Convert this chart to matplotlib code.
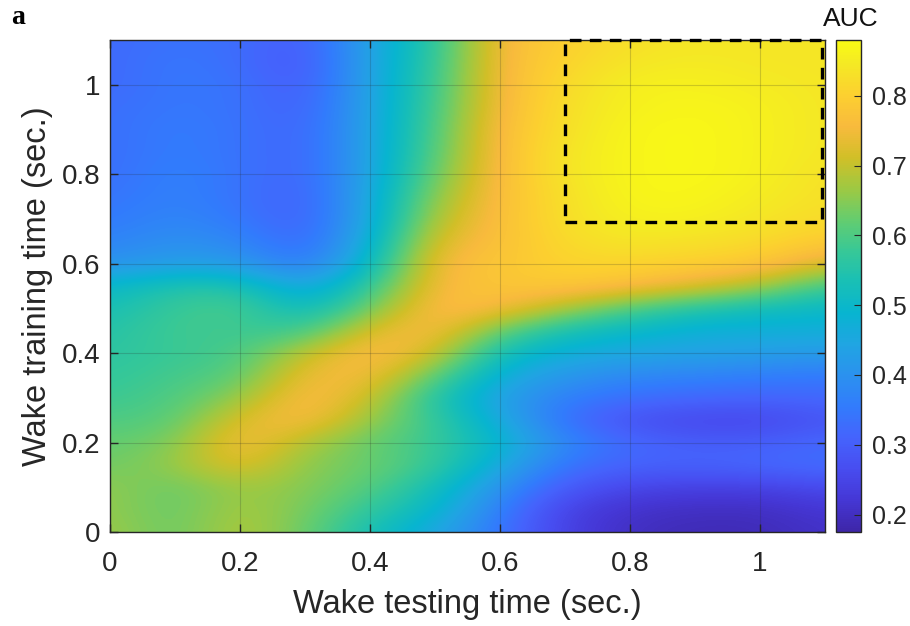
import numpy as np
import matplotlib
matplotlib.use('Agg')
import matplotlib.pyplot as plt
from matplotlib.colors import LinearSegmentedColormap
from matplotlib.patches import Rectangle

plt.rcParams['font.family'] = ['Liberation Sans', 'DejaVu Sans']

# testing time (columns) and training time (rows), seconds
test_t = [0.0, 0.1, 0.2, 0.3, 0.4, 0.5, 0.6, 0.7, 0.8, 0.9, 1.0, 1.1]
train_t = [0.00, 0.05, 0.10, 0.15, 0.20, 0.25, 0.30, 0.35, 0.40, 0.45, 0.50, 0.55,
           0.60, 0.65, 0.70, 0.75, 0.80, 0.85, 0.90, 0.95, 1.00, 1.05, 1.10]

# AUC, one row per training time
auc = [
    [0.67, 0.62, 0.69, 0.63, 0.53, 0.45, 0.34, 0.24, 0.20, 0.19, 0.19, 0.21],
    [0.66, 0.62, 0.68, 0.64, 0.57, 0.50, 0.36, 0.24, 0.21, 0.20, 0.20, 0.22],
    [0.66, 0.62, 0.67, 0.65, 0.61, 0.53, 0.40, 0.29, 0.25, 0.24, 0.24, 0.26],
    [0.63, 0.66, 0.74, 0.65, 0.63, 0.58, 0.46, 0.34, 0.31, 0.31, 0.32, 0.33],
    [0.62, 0.64, 0.77, 0.68, 0.62, 0.58, 0.50, 0.38, 0.32, 0.30, 0.30, 0.32],
    [0.60, 0.61, 0.73, 0.77, 0.66, 0.58, 0.46, 0.33, 0.27, 0.25, 0.25, 0.28],
    [0.58, 0.60, 0.66, 0.78, 0.71, 0.55, 0.43, 0.36, 0.33, 0.32, 0.31, 0.32],
    [0.57, 0.59, 0.61, 0.75, 0.76, 0.62, 0.47, 0.41, 0.38, 0.37, 0.36, 0.35],
    [0.56, 0.58, 0.59, 0.70, 0.78, 0.72, 0.52, 0.47, 0.45, 0.44, 0.43, 0.42],
    [0.55, 0.59, 0.58, 0.58, 0.73, 0.77, 0.62, 0.53, 0.50, 0.47, 0.47, 0.47],
    [0.53, 0.58, 0.60, 0.50, 0.63, 0.78, 0.76, 0.68, 0.60, 0.55, 0.52, 0.50],
    [0.50, 0.55, 0.55, 0.43, 0.57, 0.76, 0.78, 0.79, 0.77, 0.73, 0.68, 0.58],
    [0.40, 0.43, 0.42, 0.34, 0.50, 0.76, 0.78, 0.81, 0.81, 0.80, 0.79, 0.72],
    [0.37, 0.40, 0.38, 0.31, 0.47, 0.73, 0.77, 0.82, 0.84, 0.83, 0.82, 0.79],
    [0.35, 0.38, 0.35, 0.30, 0.45, 0.69, 0.77, 0.83, 0.86, 0.86, 0.84, 0.82],
    [0.34, 0.37, 0.34, 0.30, 0.45, 0.66, 0.77, 0.83, 0.87, 0.87, 0.85, 0.83],
    [0.33, 0.37, 0.34, 0.31, 0.44, 0.63, 0.77, 0.84, 0.87, 0.875, 0.86, 0.83],
    [0.33, 0.36, 0.34, 0.31, 0.44, 0.61, 0.77, 0.84, 0.87, 0.875, 0.86, 0.84],
    [0.33, 0.36, 0.34, 0.31, 0.44, 0.60, 0.77, 0.83, 0.87, 0.875, 0.86, 0.84],
    [0.33, 0.35, 0.34, 0.30, 0.44, 0.59, 0.76, 0.83, 0.86, 0.87, 0.86, 0.84],
    [0.32, 0.35, 0.34, 0.29, 0.44, 0.58, 0.76, 0.82, 0.86, 0.86, 0.85, 0.84],
    [0.32, 0.35, 0.33, 0.28, 0.44, 0.57, 0.76, 0.81, 0.84, 0.85, 0.84, 0.84],
    [0.32, 0.34, 0.33, 0.29, 0.44, 0.56, 0.76, 0.80, 0.83, 0.84, 0.84, 0.84],
]

# highlighted window (test start, train start)
box_x = [0.70, 1.095]
box_y = [0.693, 1.10]

ticks = [0, 0.2, 0.4, 0.6, 0.8, 1.0]
tick_labels = ['0', '0.2', '0.4', '0.6', '0.8', '1']
cbar_ticks = [0.2, 0.3, 0.4, 0.5, 0.6, 0.7, 0.8]

# parula-like colormap
parula = LinearSegmentedColormap.from_list('parula', [
    (0 / 63, (0.2422, 0.1504, 0.6603)),
    (4 / 63, (0.2706, 0.2147, 0.8364)),
    (8 / 63, (0.2813, 0.3006, 0.9414)),
    (12 / 63, (0.2699, 0.3892, 0.9906)),
    (16 / 63, (0.1963, 0.4847, 0.9892)),
    (20 / 63, (0.1687, 0.5703, 0.9359)),
    (24 / 63, (0.1248, 0.6459, 0.8883)),
    (28 / 63, (0.0297, 0.7082, 0.8163)),
    (32 / 63, (0.0964, 0.7500, 0.7120)),
    (36 / 63, (0.2161, 0.7843, 0.5923)),
    (40 / 63, (0.3909, 0.8029, 0.4354)),
    (44 / 63, (0.6174, 0.7876, 0.2612)),
    (48 / 63, (0.8203, 0.7498, 0.1535)),
    (52 / 63, (0.9728, 0.7298, 0.2394)),
    (56 / 63, (0.9892, 0.8136, 0.1885)),
    (60 / 63, (0.9597, 0.9135, 0.1423)),
    (63 / 63, (0.9769, 0.9839, 0.0805)),
])

fig = plt.figure(figsize=(9.1, 6.26), dpi=100)
ax = fig.add_axes([110 / 910, 94 / 626, 715 / 910, 492 / 626])
cax = fig.add_axes([836 / 910, 94 / 626, 25 / 910, 492 / 626])

dx = test_t[1] - test_t[0]
dy = train_t[1] - train_t[0]
ext = [test_t[0] - dx / 2, test_t[-1] + dx / 2, train_t[0] - dy / 2, train_t[-1] + dy / 2]
im = ax.imshow(np.array(auc), origin='lower', extent=ext, aspect='auto',
               cmap=parula, vmin=0.175, vmax=0.88, interpolation='bicubic')
ax.set_xlim(0, 1.1)
ax.set_ylim(0, 1.1)

ax.add_patch(Rectangle((box_x[0], box_y[0]), box_x[1] - box_x[0], box_y[1] - box_y[0],
                       fill=False, ec='black', lw=2.4, ls=(0, (3.5, 2.5)), clip_on=False, zorder=5))

ax.set_xticks(ticks)
ax.set_xticklabels(tick_labels)
ax.set_yticks(ticks)
ax.set_yticklabels(tick_labels)
ax.grid(True, color='#262626', alpha=0.2, lw=0.8)
ax.set_axisbelow(False)
ax.tick_params(direction='in', top=True, right=True, length=6, width=1, labelsize=20,
               colors='#262626')
ax.tick_params(axis='x', pad=14)
ax.tick_params(axis='y', pad=7)
for s in ax.spines.values():
    s.set_color('#262626')
    s.set_linewidth(1)
ax.set_xlabel('Wake testing time (sec.)', fontsize=23.5, color='#262626', labelpad=8)
ax.set_ylabel('Wake training time (sec.)', fontsize=23.5, color='#262626', labelpad=6)

cb = fig.colorbar(im, cax=cax, ticks=cbar_ticks)
cb.outline.set_edgecolor('#262626')
cb.outline.set_linewidth(1)
cax.tick_params(direction='in', length=5, labelsize=18, colors='#262626', pad=8)
cax.text(0.6, 1.0 + 9 / 492, 'AUC', transform=cax.transAxes, ha='center', va='bottom',
         fontsize=19, color='#111111')

fig.text(18 / 910, 1 - 17 / 626, 'a', fontsize=20, fontweight='bold',
         family=['Liberation Serif', 'DejaVu Serif'], va='center', ha='center')

fig.savefig('out.png', dpi=100)
